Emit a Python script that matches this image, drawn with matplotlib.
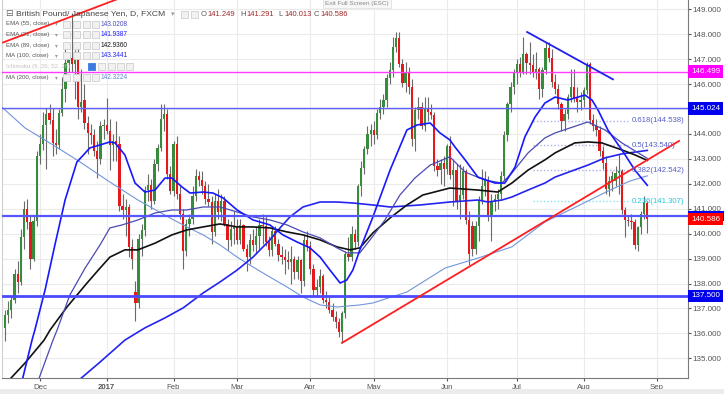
# 모듈 로딩 ----------------------------------------
import numpy as np
import pandas as pd
import matplotlib
matplotlib.use('Agg')
from matplotlib import pyplot as plt
from matplotlib import transforms
from matplotlib.patches import Rectangle

plt.rcParams['font.family'] = ['Liberation Sans', 'DejaVu Sans']

# 데이터 준비 ---------------------------------------
# GBP/JPY 일봉 (FXCM, 12/26 과 1/2 는 봉 없음)
dates = pd.bdate_range('2016-11-16', '2017-08-29').drop(
    pd.to_datetime(['2016-12-26', '2017-01-02']))

opens = [
    # 11월
    136.20, 136.75, 136.95, 137.35, 138.40, 138.05, 139.85, 141.00, 140.45, 139.00, 140.50,
    # 12월
    143.10, 143.60, 144.35, 144.85, 144.55, 143.65, 143.55, 144.85, 145.80, 146.85, 147.05,
    146.80, 147.25, 145.10, 145.35, 144.45, 144.05, 143.95, 143.30, 143.00, 144.30,
    # 1월
    144.35, 144.10, 143.55, 143.70, 143.60, 141.10, 140.95, 141.05, 139.45, 137.65, 137.20,
    139.80, 140.15, 141.75, 141.95, 141.30, 142.80, 143.45, 144.60, 144.80, 142.40,
    # 2월
    141.70, 143.60, 141.60, 140.80, 139.30, 140.40, 140.60, 141.50, 142.30, 142.15,
    141.90, 141.40, 141.25, 140.05, 141.30, 140.85, 141.30, 140.40, 139.75, 140.20,
    # 3월
    140.30, 139.75, 140.35, 139.40, 139.05, 139.75, 139.55, 139.90, 140.35, 140.30, 139.65, 139.35,
    140.10, 139.60, 139.15, 139.05, 138.95, 138.85, 139.00, 138.45, 138.95, 138.10, 139.75,
    # 4월
    139.50, 138.60, 137.75, 137.85, 138.30, 137.35, 137.25, 136.95, 136.65, 136.45,
    136.05, 136.80, 139.20, 139.05, 140.00, 139.65, 141.90, 142.65, 143.40, 144.00,
    # 5월
    144.15, 143.95, 144.85, 145.10, 145.35, 146.25, 146.55, 147.50, 147.85, 146.80, 146.05, 146.50,
    145.90, 143.80, 144.95, 145.10, 144.30, 145.00, 144.90, 144.75, 142.70, 142.55, 142.85,
    # 6월
    142.60, 143.50, 142.35, 142.55, 141.25, 141.55, 142.50, 140.55, 140.30, 139.40, 140.30,
    141.30, 141.90, 142.15, 140.75, 141.25, 141.40, 141.60, 142.30, 143.95, 145.20, 145.90,
    # 7월
    146.45, 146.80, 146.50, 147.20, 146.85, 146.75, 146.45, 146.60, 145.80, 146.55, 147.45,
    147.05, 146.10, 145.80, 145.20, 144.50, 144.80, 145.50, 145.90, 145.45, 145.30,
    # 8월
    145.35, 145.75, 146.80, 144.55, 144.30, 144.15, 143.30, 142.85, 141.80, 142.10, 142.10,
    142.45, 142.50, 140.95, 140.55, 140.50, 140.45, 139.55, 140.25, 140.80, 141.249,
]
highs = [
    136.95, 137.30, 137.50, 138.60, 138.90, 140.20, 141.30, 141.40, 140.70, 140.70, 143.30,
    144.00, 144.90, 145.05, 145.20, 145.05, 144.20, 145.00, 146.30, 147.40, 147.30, 148.85,
    147.35, 147.50, 146.60, 146.00, 144.70, 144.40, 144.20, 143.70, 144.50, 144.60,
    145.45, 144.60, 144.00, 144.50, 143.90, 141.60, 141.40, 141.20, 139.80, 138.10, 140.00,
    140.40, 141.90, 142.40, 142.20, 143.00, 143.60, 145.20, 145.20, 145.00, 142.70,
    143.70, 143.90, 141.90, 141.00, 140.60, 140.80, 141.90, 142.60, 142.50, 142.50,
    142.10, 142.00, 141.50, 141.60, 141.80, 141.60, 141.50, 140.60, 140.50, 140.90,
    140.60, 140.60, 140.40, 139.60, 140.00, 140.20, 140.30, 140.60, 140.80, 140.70, 139.90, 140.30,
    140.30, 139.80, 139.50, 139.40, 139.30, 139.50, 139.10, 139.10, 139.00, 140.00, 140.10,
    139.70, 138.80, 138.20, 138.60, 138.40, 137.70, 137.50, 137.20, 136.90, 136.60,
    136.90, 139.30, 139.85, 140.30, 140.20, 142.00, 142.90, 143.50, 144.30, 144.40,
    144.50, 145.00, 145.40, 145.60, 146.40, 146.90, 147.90, 148.10, 148.10, 147.00, 146.90, 146.70,
    146.20, 145.10, 145.50, 145.30, 145.50, 145.50, 145.20, 144.90, 143.00, 143.00, 143.10,
    143.60, 143.90, 143.00, 142.80, 142.80, 142.70, 142.60, 140.90, 140.50, 140.50, 141.50,
    142.60, 142.50, 142.30, 141.60, 141.60, 141.80, 142.50, 144.10, 145.30, 146.10, 146.60,
    147.00, 147.10, 147.90, 147.30, 147.70, 147.20, 147.30, 146.70, 146.70, 147.70, 147.70,
    147.40, 146.40, 146.00, 145.30, 145.00, 145.60, 146.60, 146.60, 145.90, 145.70,
    145.90, 146.90, 146.90, 144.80, 144.60, 144.30, 143.50, 143.10, 142.30, 142.50, 142.70,
    143.20, 142.60, 141.05, 140.70, 140.80, 140.60, 140.30, 140.90, 141.50, 141.291,
]
lows = [
    135.70, 136.40, 136.60, 137.20, 137.60, 137.95, 139.40, 140.20, 138.60, 138.90, 140.30,
    142.80, 143.35, 142.60, 144.40, 143.10, 143.20, 143.40, 144.70, 145.30, 146.50, 146.50,
    145.40, 144.60, 144.90, 144.20, 143.20, 143.60, 143.10, 142.25, 142.80, 143.80,
    144.00, 142.55, 142.90, 142.90, 140.90, 140.60, 139.90, 139.05, 138.60, 136.50, 137.00,
    139.10, 139.90, 141.30, 141.00, 141.20, 142.50, 143.30, 144.10, 142.20, 141.60,
    141.50, 141.40, 140.60, 138.60, 139.10, 139.90, 140.40, 141.30, 141.90, 141.60,
    141.20, 141.10, 139.60, 139.90, 140.60, 140.50, 140.30, 139.35, 139.50, 139.60,
    139.60, 139.60, 139.30, 138.50, 138.80, 139.30, 139.20, 139.40, 139.60, 139.50, 139.10, 139.10,
    139.50, 138.90, 138.80, 138.40, 138.60, 138.00, 138.20, 138.20, 137.60, 137.90, 139.30,
    138.40, 137.50, 137.50, 137.60, 137.20, 137.00, 136.80, 136.50, 136.20, 135.85,
    135.60, 136.60, 138.90, 138.90, 139.40, 139.50, 141.50, 142.40, 143.20, 143.50,
    143.60, 143.80, 144.60, 144.80, 145.10, 146.00, 146.30, 147.30, 146.70, 145.90, 145.70, 145.60,
    143.50, 143.30, 144.60, 144.20, 144.10, 144.50, 144.60, 142.50, 142.30, 142.00, 141.90,
    142.40, 142.20, 141.10, 141.00, 140.60, 141.40, 140.40, 138.75, 139.10, 139.20, 139.70,
    141.20, 141.50, 140.50, 139.70, 140.90, 141.00, 141.40, 142.10, 143.70, 144.90, 145.60,
    146.00, 146.30, 146.40, 146.40, 146.40, 146.30, 146.20, 145.40, 145.50, 146.40, 146.90,
    145.90, 145.60, 145.00, 144.10, 144.10, 144.60, 145.30, 145.30, 144.90, 144.95,
    145.10, 145.60, 144.40, 144.10, 143.90, 143.10, 142.60, 141.60, 141.50, 141.70, 141.90,
    141.60, 140.80, 139.85, 140.30, 140.20, 139.40, 139.30, 140.00, 140.60, 140.013,
]
closes = [
    136.75, 136.95, 137.35, 138.40, 138.05, 139.85, 141.00, 140.45, 139.00, 140.50, 143.10,
    143.60, 144.35, 144.80, 144.55, 143.65, 143.55, 144.85, 145.80, 146.85, 147.05, 146.80,
    147.25, 145.10, 145.30, 144.45, 144.05, 143.95, 143.30, 143.00, 144.30, 144.35,
    144.10, 143.55, 143.70, 143.60, 141.10, 140.95, 141.05, 139.45, 139.00, 137.20, 139.80,
    140.15, 141.75, 141.95, 141.30, 142.80, 143.45, 144.60, 144.80, 142.40, 141.70,
    143.60, 141.60, 140.80, 139.30, 140.40, 140.60, 141.50, 142.30, 142.15, 141.90,
    141.40, 141.25, 140.05, 141.30, 140.85, 141.30, 140.40, 139.75, 140.20, 140.30,
    139.75, 140.35, 139.40, 139.05, 139.75, 139.55, 139.90, 140.35, 140.30, 139.65, 139.35, 140.10,
    139.60, 139.15, 139.05, 138.95, 138.85, 139.00, 138.45, 138.95, 138.10, 139.75, 139.50,
    138.60, 137.75, 137.85, 138.30, 137.35, 137.25, 136.95, 136.65, 136.45, 136.05,
    136.80, 139.20, 139.05, 140.00, 139.65, 141.90, 142.65, 143.40, 144.00, 144.15,
    143.95, 144.85, 145.10, 145.35, 146.25, 146.55, 147.50, 147.85, 146.80, 146.05, 146.50, 145.90,
    143.80, 144.95, 145.10, 144.30, 145.00, 144.90, 144.75, 142.70, 142.55, 142.85, 142.60,
    143.50, 142.35, 142.55, 141.25, 141.55, 142.50, 140.55, 139.20, 139.40, 140.30, 141.30,
    141.90, 142.15, 140.75, 141.25, 141.40, 141.60, 142.30, 143.95, 145.20, 145.90, 146.45,
    146.80, 146.50, 147.20, 146.85, 146.75, 146.45, 146.60, 145.80, 146.55, 147.45, 147.05,
    146.10, 145.80, 145.20, 144.50, 144.80, 145.50, 145.90, 145.45, 145.30, 145.35,
    145.75, 146.80, 144.55, 144.30, 144.15, 143.30, 142.85, 141.80, 142.10, 142.30, 142.45,
    142.50, 140.95, 140.55, 140.50, 140.45, 139.55, 140.25, 140.80, 141.25, 140.586,
]

# 지표선 (그림에서 읽은 값, x = 봉 번호)
ema21_x = [5, 8.5, 9.4, 12.6, 15.7, 18.9, 22.6, 26.7, 29.9, 33.0, 34.6, 37.7, 40.9, 44.0, 47.2,
           50.3, 52.5, 55.7, 58.2, 62.3, 65.4, 68.6, 73.0, 78.0, 83.3, 87.4, 91.8, 95.9, 99.1,
           102.2, 105.4, 107.5, 109.4, 111.6, 115.7, 121.1, 126.4, 129.6, 133.7, 136.8, 139.9,
           141.5, 144.7, 148.7, 154.1, 157.2, 160.4, 163.5, 166.7, 169.8, 173.0, 177.0, 182.4,
           184.6, 186.5, 189.6, 194.0, 198.1, 202.0]
ema21_y = [133.9, 135.73, 136.14, 137.74, 139.55, 141.35, 142.87, 143.44, 143.56, 143.68, 143.64,
           143.16, 142.03, 141.67, 141.75, 142.23, 142.23, 141.87, 141.63, 141.67, 141.63, 141.43,
           140.95, 140.55, 140.35, 139.95, 139.67, 139.43, 139.06, 138.54, 138.02, 138.14, 138.54,
           139.35, 140.67, 142.55, 144.16, 144.36, 144.44, 144.04, 143.76, 143.48, 142.96, 142.27,
           142.03, 142.03, 142.67, 143.88, 144.68, 145.24, 145.48, 145.36, 145.56, 145.36, 144.96,
           144.16, 143.36, 142.55, 141.94]
ema55_x = [10, 15.1, 16.4, 20.4, 25.2, 29.9, 33.0, 36.8, 41.8, 47.2, 52.5, 57.2, 62.3, 67.6,
           73.0, 78.0, 83.3, 88.7, 93.7, 99.1, 104.4, 107.5, 111.6, 114.8, 119.5, 124.2, 128.9,
           133.7, 139.9, 144.7, 150.9, 156.3, 159.4, 164.5, 169.8, 173.0, 183.3, 188.7, 194.0, 202.0]
ema55_y = [133.95, 135.73, 136.14, 137.54, 138.62, 139.55, 140.23, 140.35, 140.55, 140.83,
           140.95, 140.95, 141.07, 141.07, 140.87, 140.67, 140.55, 140.35, 140.07, 139.83,
           139.43, 139.23, 139.23, 139.75, 140.55, 141.55, 142.23, 142.75, 143.08, 142.47,
           142.15, 142.03, 142.43, 143.24, 143.84, 144.04, 144.48, 144.16, 143.64, 143.02]
ema89_x = [0, 6.3, 12.3, 14.2, 19.5, 25.8, 29.9, 33.0, 37.7, 41.8, 47.2, 52.5, 57.2, 62.3, 67.6,
           73.0, 78.0, 83.3, 88.7, 93.7, 99.1, 104.4, 108.5, 111.6, 115.7, 121.1, 126.4, 131.4,
           139.9, 148.7, 155.0, 159.4, 164.5, 169.8, 173.0, 179.2, 183.3, 187.7, 194.0, 198.1, 202.0]
ema89_y = [133.95, 134.81, 135.73, 136.14, 137.06, 138.02, 138.62, 139.06, 139.35, 139.35,
           139.62, 139.95, 140.15, 140.27, 140.39, 140.27, 140.27, 140.23, 140.07, 139.95,
           139.75, 139.47, 139.35, 139.43, 140.03, 140.63, 141.15, 141.55, 141.83, 141.75,
           141.67, 142.03, 142.55, 142.96, 143.24, 143.64, 143.68, 143.64, 143.36, 143.16, 142.94]
ma100_x = [23, 29.9, 37.7, 44.0, 50.3, 56.0, 62.3, 67.6, 73.0, 78.0, 83.3, 86.5, 89.6, 93.7,
           99.1, 104.4, 109.4, 115.7, 121.1, 130.5, 139.9, 148.7, 151.9, 156.3, 159.4, 164.5,
           169.8, 173.0, 183.3, 188.7, 194.0, 202.0]
ma100_y = [134.1, 134.85, 135.73, 136.22, 136.62, 137.02, 137.62, 138.06, 138.54, 139.06,
           139.75, 140.23, 140.67, 141.07, 141.27, 141.27, 141.23, 141.15, 141.07, 141.15,
           141.27, 141.35, 141.27, 141.35, 141.47, 141.75, 142.03, 142.27, 142.75, 143.04,
           143.20, 143.34]
ma200_x = [-1, 6.3, 15.1, 22.6, 33.0, 41.8, 51.9, 57.2, 62.3, 67.6, 73.0, 78.0, 83.3, 88.7,
           93.7, 99.1, 104.4, 111.6, 115.7, 126.4, 138.4, 148.7, 159.4, 169.8, 180.8, 190.3,
           196.5, 202.0]
ma200_y = [145.08, 144.24, 143.56, 142.96, 142.07, 141.35, 140.63, 140.27, 139.95, 139.55,
           139.06, 138.66, 138.26, 137.86, 137.46, 137.14, 137.06, 137.14, 137.22, 137.66,
           138.62, 139.02, 139.47, 140.47, 141.15, 141.75, 142.11, 142.32]

# 추세선, 수평선, 피보나치
trend_red_x, trend_red_y = [106, 212], [135.62, 143.72]
trend_red2_x, trend_red2_y = [-0.6, 36], [147.67, 149.44]
trend_blue_x, trend_blue_y = [164.2, 191.2], [148.09, 146.19]
hline_prices = [146.499, 145.024, 140.72, 137.5]
fib_levels = [0.236, 0.382, 0.5, 0.618]
fib_prices = [141.307, 142.542, 143.540, 144.538]
fib_start, fib_end = 166, 196

month_labels = ['Dec', '2017', 'Feb', 'Mar', 'Apr', 'May', 'Jun', 'Jul', 'Aug', 'Sep']
legend_names = ['EMA (55, close)', 'EMA (21, close)', 'EMA (89, close)', 'MA (100, close)',
                'Ichimoku (9, 26, 52, 26)', 'MA (200, close)']
legend_values = ['143.0208', '141.9387', '142.9360', '143.3441', '', '142.3224']

# 그래프 출력 ---------------------------------------
W, H = 724, 394
fig = plt.figure(figsize=(W / 100, H / 100), dpi=100)
ax = fig.add_axes([2 / W, 16 / H, 686 / W, 378 / H])

x = np.arange(len(dates))
o, h, l, c = map(np.array, (opens, highs, lows, closes))
up = c >= o
ax.vlines(x, l, h, color='#6a6a6a', lw=0.8, zorder=3)
ax.bar(x, np.maximum(np.abs(c - o), 0.04), bottom=np.minimum(o, c), width=0.72,
       color=np.where(up, '#388a3c', '#e5191c'), lw=0, zorder=4)

ax.plot(ma200_x, ma200_y, color='#7096da', lw=0.8, zorder=5)
ax.plot(ma100_x, ma100_y, color='#2424f0', lw=1.2, zorder=5)
ax.plot(ema89_x, ema89_y, color='#111111', lw=1.2, zorder=5)
ax.plot(ema55_x, ema55_y, color='#4a4ab4', lw=0.9, zorder=5)
ax.plot(ema21_x, ema21_y, color='#1818ff', lw=1.2, zorder=5)

for p, col, lw in zip(hline_prices, ['#ff3dff', '#6060ff', '#5656ff', '#4a4aff'],
                      [1.0, 1.0, 1.6, 2.0]):
    ax.axhline(p, color=col, lw=lw, zorder=6)

ax.plot(trend_red_x, trend_red_y, color='#ff1f1f', lw=1.3, zorder=6)
ax.plot(trend_red2_x, trend_red2_y, color='#ff1f1f', lw=1.3, zorder=6)
ax.plot(trend_blue_x, trend_blue_y, color='#2020ee', lw=1.3, zorder=6)

for lev, p in zip(fib_levels, fib_prices):
    is_cyan = lev == 0.236
    ax.hlines(p, fib_start, fib_end, colors='#86e3ee' if is_cyan else '#a9aee6',
              linestyles=(0, (1, 1.5)), lw=1, zorder=2)
    ax.text(fib_end + 1, p, f'{lev:g}({p:.3f})', fontsize=5.6, va='center', ha='left',
            color='#1fc8dc' if is_cyan else '#5560c8', zorder=7)

# 축 설정
month_pos = [i for i in range(1, len(dates)) if dates[i].month != dates[i - 1].month]
month_pos.append(len(dates) - 1 + len(pd.bdate_range(dates[-1], '2017-09-01')) - 1)
ax.set_xlim(-0.94, 214.8)
ax.set_ylim(134.21, 149.373)
ax.set_xticks(month_pos)
ax.set_xticklabels(month_labels)
ax.get_xticklabels()[1].set_fontweight('bold')
ax.yaxis.tick_right()
yt = np.arange(135, 150)
ax.set_yticks(yt)
# 145.000 라벨은 145.024 박스에 가려짐
ax.set_yticklabels(['' if v == 145 else f'{v:.3f}' for v in yt])
ax.tick_params(axis='y', labelsize=5.8, colors='#555555', length=2, pad=1.5)
ax.tick_params(axis='x', labelsize=5.6, colors='#555555', length=2.5, pad=1.5)
ax.grid(True, color='#ebebeb', lw=0.8)
ax.set_axisbelow(True)
ax.spines['top'].set_visible(False)
ax.spines['left'].set_color('#d0d0d0')
for s in ['right', 'bottom']:
    ax.spines[s].set_color('#7a7a7a')

# 가격 라벨 박스
trans = transforms.blended_transform_factory(ax.transAxes, ax.transData)
ax.add_patch(Rectangle((1.0, 140.72 - 0.2), 36 / 686, 0.4, transform=trans,
                       fc='#0000ee', ec='none', clip_on=False, zorder=9))
for p, txt, fc in [(146.499, '146.499', '#ff00ff'), (145.024, '145.024', '#0000ee'),
                   (137.5, '137.500', '#0000ee'), (140.586, '140.586', '#ff0000')]:
    ax.text(1 + 3 / 686, p, txt, transform=trans, ha='left', va='center', fontsize=5.8,
            color='white', clip_on=False, zorder=10,
            bbox=dict(boxstyle='square,pad=0.35', fc=fc, ec='none'))


# 왼쪽 위 범례
def ftext(px, py, s, **kw):
    fig.text(px / W, 1 - py / H, s, va='center', ha='left', **kw)


def icon(px, py, fc='#f1f1f1', ec='#cfcfcf'):
    fig.add_artist(Rectangle((px / W, 1 - (py + 3.5) / H), 7 / W, 7 / H,
                             transform=fig.transFigure, fc=fc, ec=ec, lw=0.6))


ftext(5, 14, '⊟', fontsize=6.5, color='#666666', family=['DejaVu Sans'])
ftext(16, 14, 'British Pound/ Japanese Yen, D, FXCM', fontsize=6.1, color='#444444')
ftext(171, 14, '▾', fontsize=5, color='#999999', family=['DejaVu Sans'])
icon(181, 14)
icon(191, 14)
for px, lab, val in [(201, 'O', '141.249'), (240, 'H', '141.291'),
                     (278, 'L', '140.013'), (314, 'C', '140.586')]:
    ftext(px, 14, lab, fontsize=5.5, color='#555555')
    ftext(px + 6.5, 14, val, fontsize=5.5, color='#a0282a')

for i, (name, val) in enumerate(zip(legend_names, legend_values)):
    py = 24 + i * 10.66
    grey = name.startswith('Ichimoku')
    ftext(6, py, name, fontsize=4.4, color='#c2c2c2' if grey else '#555555')
    if grey:
        icon(88, py, fc='#3b7be0', ec='#3b7be0')
        for px in [98, 108, 117, 126]:
            icon(px, py)
    else:
        ftext(55, py, '▾', fontsize=4, color='#999999', family=['DejaVu Sans'])
        for px in [63, 73, 83, 92]:
            icon(px, py)
        vcol = ['#4a4ab4', '#1818ff', '#111111', '#2424f0', '', '#5a86d6'][i]
        ftext(101, py, val, fontsize=4.7, color=vcol)

fig.text(357 / W, 1 - 3.5 / H, 'Exit Full Screen (ESC)', fontsize=4.6, color='#888888',
         ha='center', va='center',
         bbox=dict(boxstyle='square,pad=0.3', fc='#f7f7f7', ec='#dddddd', lw=0.5))

fig.add_artist(Rectangle((0, 0), 1, 5 / H, transform=fig.transFigure, fc='#ececec', ec='none'))

fig.savefig('out.png', dpi=100)
